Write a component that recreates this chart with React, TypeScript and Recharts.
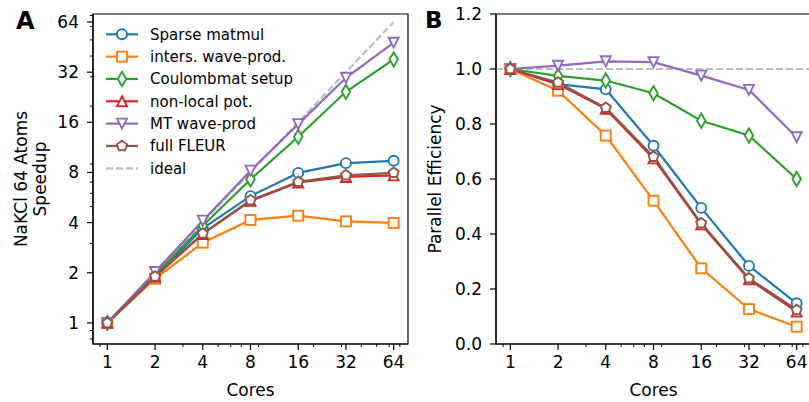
import React from 'react';
import { LineChart, Line, XAxis, YAxis, ReferenceLine, ReferenceArea, Legend } from 'recharts';

// ---------- data ----------
const cores = [1, 2, 4, 8, 16, 32, 64];

// Panel A: speedup
const sparseSpeedup = [1, 1.89, 3.7, 5.77, 7.95, 9.1, 9.4];
const intersSpeedup = [1, 1.84, 3.03, 4.15, 4.4, 4.07, 3.98];
const coulombSpeedup = [1, 1.95, 3.83, 7.27, 13.1, 24.4, 38.2];
const nonlocalSpeedup = [1, 1.89, 3.42, 5.4, 6.96, 7.52, 7.68];
const mtSpeedup = [1, 2.02, 4.11, 8.2, 15.6, 29.6, 48.1];
const fleurSpeedup = [1, 1.9, 3.44, 5.45, 7.03, 7.7, 7.96];
const idealSpeedup = [1, 2, 4, 8, 16, 32, 64];

// Panel B: parallel efficiency
const sparseEff = [1, 0.945, 0.926, 0.721, 0.495, 0.284, 0.148];
const intersEff = [1, 0.921, 0.758, 0.521, 0.275, 0.127, 0.063];
const coulombEff = [1, 0.975, 0.958, 0.912, 0.812, 0.758, 0.6];
const nonlocalEff = [1, 0.945, 0.855, 0.675, 0.435, 0.235, 0.118];
const mtEff = [1, 1.012, 1.028, 1.025, 0.976, 0.924, 0.752];
const fleurEff = [1, 0.951, 0.859, 0.681, 0.439, 0.239, 0.124];
const idealEff = 1;

const seriesNames = ['Sparse matmul', 'inters. wave-prod.', 'Coulombmat setup', 'non-local pot.', 'MT wave-prod', 'full FLEUR'];
const seriesKeys = ['sparse', 'inters', 'coulomb', 'nonlocal', 'mt', 'fleur'];
const speedupSeries = [sparseSpeedup, intersSpeedup, coulombSpeedup, nonlocalSpeedup, mtSpeedup, fleurSpeedup];
const effSeries = [sparseEff, intersEff, coulombEff, nonlocalEff, mtEff, fleurEff];

const xMajorTicks = [1, 2, 4, 8, 16, 32, 64];
const xMinorTicks = [0.9, 3, 5, 6, 7, 9, 20, 30, 40, 50, 60, 70];
const yMajorTicksA = [1, 2, 4, 8, 16, 32, 64];
const yMinorTicksA = [0.8, 0.9, 3, 5, 6, 7, 9, 20, 30, 40, 50, 60, 70];
const yTicksB = [0, 0.2, 0.4, 0.6, 0.8, 1.0, 1.2];

// ---------- styles ----------
const X_DOMAIN: [number, number] = [0.812, 78.8];
const YA_DOMAIN: [number, number] = [0.747, 71.5];
const YB_DOMAIN: [number, number] = [0, 1.2];

const colors = ['#1f77b4', '#ff7f0e', '#2ca02c', '#d62728', '#9467bd', '#8c564b'];
const shapes = ['circle', 'square', 'diamond', 'triUp', 'triDown', 'pentagon'];
const IDEAL_COLOR = '#bdbdbd';
const FONT = 'DejaVu Sans';
const LW = 2.2;
const TICK_SIZE = 6;
const MINOR_SIZE = 3;
const X_MARGIN = 6;
const Y_MARGIN = 8;

const allX = [...xMajorTicks, ...xMinorTicks].sort((a, b) => a - b);
const allYA = [...yMajorTicksA, ...yMinorTicksA].sort((a, b) => a - b);

const dataA = cores.map((c, i) => {
  const row: Record<string, number> = { cores: c, ideal: idealSpeedup[i] };
  seriesKeys.forEach((k, j) => (row[k] = speedupSeries[j][i]));
  return row;
});
const dataB = cores.map((c, i) => {
  const row: Record<string, number> = { cores: c };
  seriesKeys.forEach((k, j) => (row[k] = effSeries[j][i]));
  return row;
});

function Marker({ shape, cx, cy, color }: { shape: string; cx: number; cy: number; color: string }) {
  const sw = 1.9;
  const common = { fill: '#fff', stroke: color, strokeWidth: sw };
  const s = 5;
  switch (shape) {
    case 'circle':
      return <circle cx={cx} cy={cy} r={s} {...common} />;
    case 'square':
      return <rect x={cx - s} y={cy - s} width={2 * s} height={2 * s} {...common} />;
    case 'diamond': {
      const h = 7.1, w = 4.25;
      return <polygon points={`${cx},${cy - h} ${cx + w},${cy} ${cx},${cy + h} ${cx - w},${cy}`} {...common} />;
    }
    case 'triUp':
      return <polygon points={`${cx},${cy - s} ${cx + s},${cy + s} ${cx - s},${cy + s}`} {...common} />;
    case 'triDown':
      return <polygon points={`${cx},${cy + s} ${cx + s},${cy - s} ${cx - s},${cy - s}`} {...common} />;
    case 'pentagon': {
      const pts: string[] = [];
      for (let k = 0; k < 5; k++) {
        const a = (-90 + k * 72) * Math.PI / 180;
        pts.push(`${cx + s * 1.05 * Math.cos(a)},${cy + s * 1.05 * Math.sin(a)}`);
      }
      return <polygon points={pts.join(' ')} {...common} />;
    }
    default:
      return null;
  }
}

const makeDot = (shape: string, color: string) => (props: any) => {
  const { cx, cy, index } = props;
  if (cx == null || cy == null) return <g key={`e-${shape}-${index}`} />;
  return (
    <g key={`d-${shape}-${index}`}>
      <Marker shape={shape} cx={cx} cy={cy} color={color} />
    </g>
  );
};

// custom ticks: major ticks get a label and a long tick line, minor ones a short line
const makeXTick = (majors: number[], fmt: (v: number) => string) => (props: any) => {
  const { x, y, payload } = props;
  const v = payload.value;
  const major = majors.includes(v);
  const axisY = y - TICK_SIZE - X_MARGIN;
  return (
    <g>
      <line x1={x} x2={x} y1={axisY} y2={axisY + (major ? TICK_SIZE : MINOR_SIZE)} stroke="#000" strokeWidth={major ? 1.2 : 1} />
      {major && (
        <text x={x} y={y} dy="0.71em" textAnchor="middle" fontSize={17} fontFamily={FONT} fill="#000">{fmt(v)}</text>
      )}
    </g>
  );
};
const makeYTick = (majors: number[], fmt: (v: number) => string) => (props: any) => {
  const { x, y, payload } = props;
  const v = payload.value;
  const major = majors.includes(v);
  const axisX = x + TICK_SIZE + Y_MARGIN;
  return (
    <g>
      <line x1={axisX} x2={axisX - (major ? TICK_SIZE : MINOR_SIZE)} y1={y} y2={y} stroke="#000" strokeWidth={major ? 1.2 : 1} />
      {major && (
        <text x={x} y={y} dy="0.355em" textAnchor="end" fontSize={17} fontFamily={FONT} fill="#000">{fmt(v)}</text>
      )}
    </g>
  );
};

const renderLegend = () => (
  <svg width={260} height={170} style={{ display: 'block' }}>
    {seriesNames.map((name, i) => {
      const y = 14.3 + i * 22.33;
      return (
        <g key={name}>
          <line x1={6} x2={38} y1={y} y2={y} stroke={colors[i]} strokeWidth={LW} />
          <Marker shape={shapes[i]} cx={22} cy={y} color={colors[i]} />
          <text x={50} y={y + 5.4} fontSize={15} fontFamily={FONT} fill="#000">{name}</text>
        </g>
      );
    })}
    {(() => {
      const y = 14.3 + 6 * 22.33;
      return (
        <g>
          <line x1={6} x2={38} y1={y} y2={y} stroke={IDEAL_COLOR} strokeWidth={LW} strokeDasharray="7 3" />
          <text x={50} y={y + 5.4} fontSize={15} fontFamily={FONT} fill="#000">ideal</text>
        </g>
      );
    })()}
  </svg>
);

const fmtA = (v: number) => String(v);
const fmtB = (v: number) => v.toFixed(1);

const labelsA = () => (
  <g fontFamily={FONT} fill="#000">
    <text transform="translate(27,179) rotate(-90)" textAnchor="middle" fontSize={17}>NaKCl 64 Atoms</text>
    <text transform="translate(46,179) rotate(-90)" textAnchor="middle" fontSize={17}>Speedup</text>
    <text x={16} y={29} fontSize={24} fontWeight="bold">A</text>
  </g>
);
const xLabelA = () => (
  <text x={250.5} y={396} textAnchor="middle" fontSize={17} fontFamily={FONT} fill="#000">Cores</text>
);
const labelsB = () => (
  <g fontFamily={FONT} fill="#000">
    <text transform="translate(21,179) rotate(-90)" textAnchor="middle" fontSize={17}>Parallel Efficiency</text>
    <text x={5} y={28} fontSize={23} fontWeight="bold">B</text>
  </g>
);
const xLabelB = () => (
  <text x={233.5} y={396} textAnchor="middle" fontSize={17} fontFamily={FONT} fill="#000">Cores</text>
);

const xTickRenderer = makeXTick(xMajorTicks, fmtA);
const yTickRendererA = makeYTick(yMajorTicksA, fmtA);
const yTickRendererB = makeYTick(yTicksB, fmtB);

function PanelA() {
  return (
    <LineChart width={420} height={402} data={dataA} margin={{ top: 14, right: 12, bottom: 0, left: 0 }}>
      <XAxis dataKey="cores" type="number" scale="log" domain={X_DOMAIN} allowDataOverflow ticks={allX} interval={0}
        tick={xTickRenderer} tickSize={TICK_SIZE} tickMargin={X_MARGIN} tickLine={false} height={58}
        axisLine={{ stroke: '#000', strokeWidth: 1.2 }} label={xLabelA} />
      <YAxis type="number" scale="log" domain={YA_DOMAIN} allowDataOverflow ticks={allYA} interval={0}
        tick={yTickRendererA} tickSize={TICK_SIZE} tickMargin={Y_MARGIN} tickLine={false} width={93}
        axisLine={{ stroke: '#000', strokeWidth: 1.2 }} label={labelsA} />
      <ReferenceArea x1={X_DOMAIN[0]} x2={X_DOMAIN[1]} y1={YA_DOMAIN[0]} y2={YA_DOMAIN[1]} fill="none" fillOpacity={0}
        stroke="#000" strokeWidth={1.2} strokeOpacity={1} ifOverflow="visible" />
      <Line dataKey="ideal" stroke={IDEAL_COLOR} strokeWidth={LW} strokeDasharray="7 3" dot={false} activeDot={false} isAnimationActive={false} />
      {seriesKeys.map((k, i) => (
        <Line key={k} dataKey={k} stroke={colors[i]} strokeWidth={LW} dot={makeDot(shapes[i], colors[i])}
          activeDot={false} isAnimationActive={false} />
      ))}
      <Legend layout="vertical" align="center" verticalAlign="middle" content={renderLegend}
        wrapperStyle={{ left: 100, top: 20, width: 260, height: 170 }} />
    </LineChart>
  );
}

function PanelB() {
  return (
    <LineChart width={400} height={402} data={dataB} margin={{ top: 14, right: 9, bottom: 0, left: 0 }}>
      <XAxis dataKey="cores" type="number" scale="log" domain={X_DOMAIN} allowDataOverflow ticks={allX} interval={0}
        tick={xTickRenderer} tickSize={TICK_SIZE} tickMargin={X_MARGIN} tickLine={false} height={58}
        axisLine={{ stroke: '#000', strokeWidth: 1.2 }} label={xLabelB} />
      <YAxis type="number" domain={YB_DOMAIN} allowDataOverflow ticks={yTicksB} interval={0}
        tick={yTickRendererB} tickSize={TICK_SIZE} tickMargin={Y_MARGIN} tickLine={false} width={76}
        axisLine={{ stroke: '#000', strokeWidth: 1.2 }} label={labelsB} />
      <ReferenceArea x1={X_DOMAIN[0]} x2={X_DOMAIN[1]} y1={YB_DOMAIN[0]} y2={YB_DOMAIN[1]} fill="none" fillOpacity={0}
        stroke="#000" strokeWidth={1.2} strokeOpacity={1} ifOverflow="visible" />
      <ReferenceLine y={idealEff} stroke={IDEAL_COLOR} strokeWidth={LW} strokeDasharray="7 3" />
      {seriesKeys.map((k, i) => (
        <Line key={k} dataKey={k} stroke={colors[i]} strokeWidth={LW} dot={makeDot(shapes[i], colors[i])}
          activeDot={false} isAnimationActive={false} />
      ))}
    </LineChart>
  );
}

export default function App() {
  return (
    <div style={{ position: 'absolute', left: 0, top: 0, width: 809, height: 402, overflow: 'hidden', background: '#fff' }}>
      <div style={{ position: 'absolute', left: 0, top: 0 }}>
        <PanelA />
      </div>
      <div style={{ position: 'absolute', left: 420, top: 0 }}>
        <PanelB />
      </div>
    </div>
  );
}
